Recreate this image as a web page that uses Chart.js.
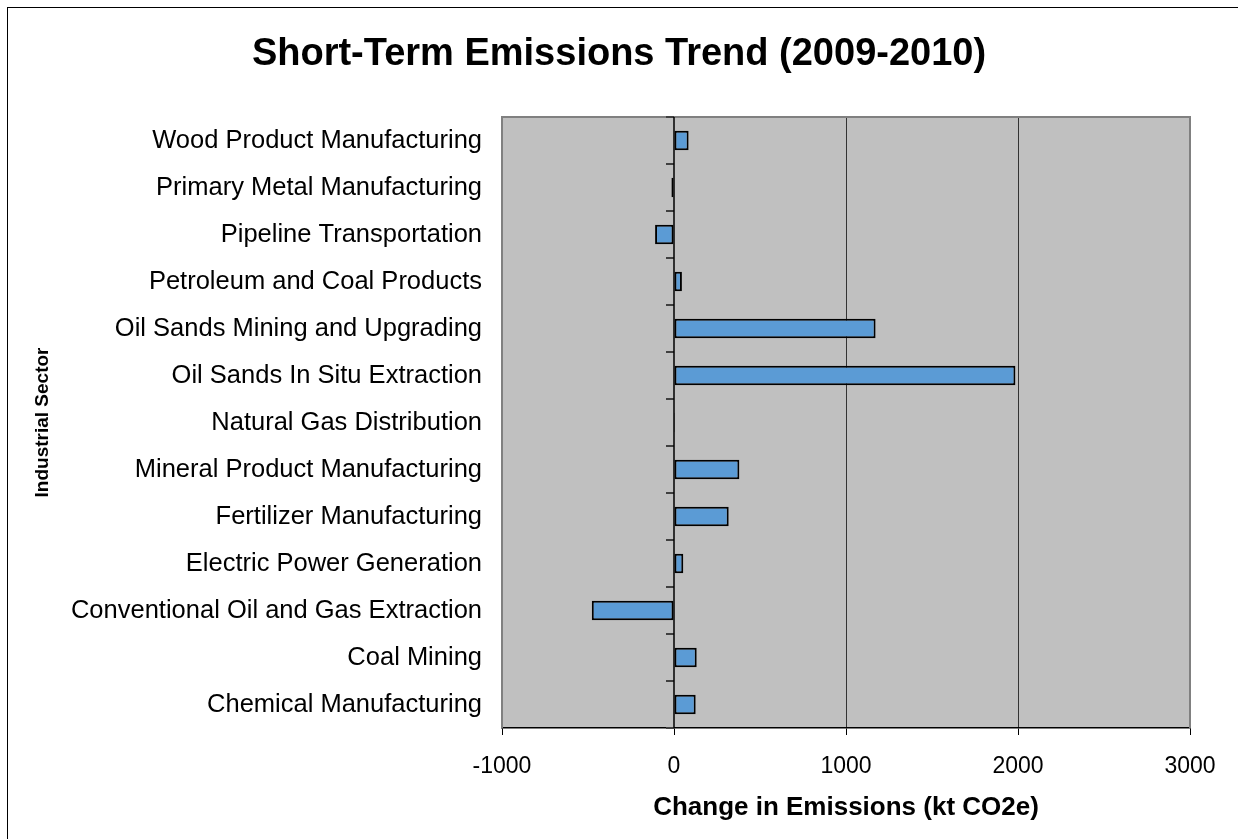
<!DOCTYPE html>
<html>
<head>
<meta charset="utf-8">
<script src="https://cdn.jsdelivr.net/npm/chart.js@4/dist/chart.umd.min.js"></script>
<style>
    html, body { margin: 0; padding: 0; background: #fff; }
    #wrap { width: 1238px; height: 839px; position: relative; }
</style>
</head>
<body>
<div id="wrap"><canvas id="trendChart"></canvas></div>
<script>
// Sectors, top to bottom as in the original
const sectors = [
    'Wood Product Manufacturing',
    'Primary Metal Manufacturing',
    'Pipeline Transportation',
    'Petroleum and Coal Products',
    'Oil Sands Mining and Upgrading',
    'Oil Sands In Situ Extraction',
    'Natural Gas Distribution',
    'Mineral Product Manufacturing',
    'Fertilizer Manufacturing',
    'Electric Power Generation',
    'Conventional Oil and Gas Extraction',
    'Coal Mining',
    'Chemical Manufacturing'
];

// Change in emissions 2009-2010 (kt CO2e)
const emissionChange = [85, -15, -110, 46, 1172, 1985, 6, 380, 318, 54, -478, 132, 126];

const xTicks = [-1000, 0, 1000, 2000, 3000];

const FONT = "'Liberation Sans', Arial, sans-serif";

// Gray plot background, frame and category tick marks next to the zero line
const plotDecor = {
    id: 'plotDecor',
    beforeDraw(chart) {
        const { ctx, chartArea: a } = chart;
        ctx.save();
        ctx.fillStyle = '#c0c0c0';
        ctx.fillRect(a.left, a.top, a.right - a.left, a.bottom - a.top);
        ctx.restore();
    },
    afterDraw(chart) {
        const { ctx, chartArea: a } = chart;
        const x0 = chart.scales.x.getPixelForValue(0);
        const yScale = chart.scales.y;
        ctx.save();
        // plot border (left, top, right)
        ctx.strokeStyle = '#808080';
        ctx.lineWidth = 2;
        ctx.beginPath();
        ctx.moveTo(a.left, a.bottom);
        ctx.lineTo(a.left, a.top);
        ctx.lineTo(a.right, a.top);
        ctx.lineTo(a.right, a.bottom);
        ctx.stroke();
        // category tick marks
        ctx.strokeStyle = '#404040';
        ctx.lineWidth = 2;
        for (let i = 0; i <= sectors.length; i++) {
            const y = Math.round(yScale.getPixelForValue(i - 0.5));
            ctx.beginPath();
            ctx.moveTo(x0 - 8, y);
            ctx.lineTo(x0, y);
            ctx.stroke();
        }
        // zero line
        ctx.strokeStyle = '#000';
        ctx.lineWidth = 1.5;
        ctx.beginPath();
        ctx.moveTo(x0, a.top);
        ctx.lineTo(x0, a.bottom);
        ctx.stroke();
        // outer frame
        ctx.strokeStyle = '#000';
        ctx.lineWidth = 1;
        ctx.strokeRect(7.5, 7.5, chart.width, chart.height);
        ctx.restore();
    }
};

new Chart(document.getElementById('trendChart'), {
    type: 'bar',
    data: {
        labels: sectors,
        datasets: [{
            data: emissionChange,
            backgroundColor: '#5b9bd5',
            borderColor: '#000',
            borderWidth: 2,
            borderSkipped: false,
            categoryPercentage: 1,
            barPercentage: 0.42
        }]
    },
    options: {
        indexAxis: 'y',
        responsive: true,
        maintainAspectRatio: false,
        animation: false,
        layout: { padding: { left: 48, right: 48, top: 0, bottom: 0 } },
        plugins: {
            legend: { display: false },
            tooltip: { enabled: false },
            title: {
                display: true,
                text: 'Short-Term Emissions Trend (2009-2010)',
                color: '#000',
                font: { family: FONT, size: 38, weight: 'bold' },
                padding: { top: 32, bottom: 39.4 }
            }
        },
        scales: {
            x: {
                min: -1000,
                max: 3000,
                afterBuildTicks: scale => { scale.ticks = xTicks.map(v => ({ value: v })); },
                afterFit: scale => { scale.height = 111; },
                grid: {
                    color: c => (c.tick && (c.tick.value === 1000 || c.tick.value === 2000)) ? '#333' : 'transparent',
                    tickColor: '#000',
                    tickLength: 7,
                    lineWidth: 1
                },
                border: { display: true, color: '#000', width: 1.5 },
                ticks: {
                    color: '#000',
                    font: { family: FONT, size: 23 },
                    padding: 18,
                    maxRotation: 0,
                    callback: v => String(v)
                },
                title: {
                    display: true,
                    text: 'Change in Emissions (kt CO2e)',
                    color: '#000',
                    font: { family: FONT, size: 26, weight: 'bold' },
                    padding: { top: 0, bottom: 16 }
                }
            },
            y: {
                afterFit: scale => { scale.width = 454; },
                grid: { display: false, drawTicks: false },
                border: { display: false },
                ticks: { color: '#000', font: { family: FONT, size: 25.5 }, padding: 20, autoSkip: false },
                title: {
                    display: true,
                    text: 'Industrial Sector',
                    color: '#000',
                    font: { family: FONT, size: 19, weight: 'bold' },
                    padding: { top: -17, bottom: 0 }
                }
            }
        }
    },
    plugins: [plotDecor]
});
</script>
</body>
</html>
